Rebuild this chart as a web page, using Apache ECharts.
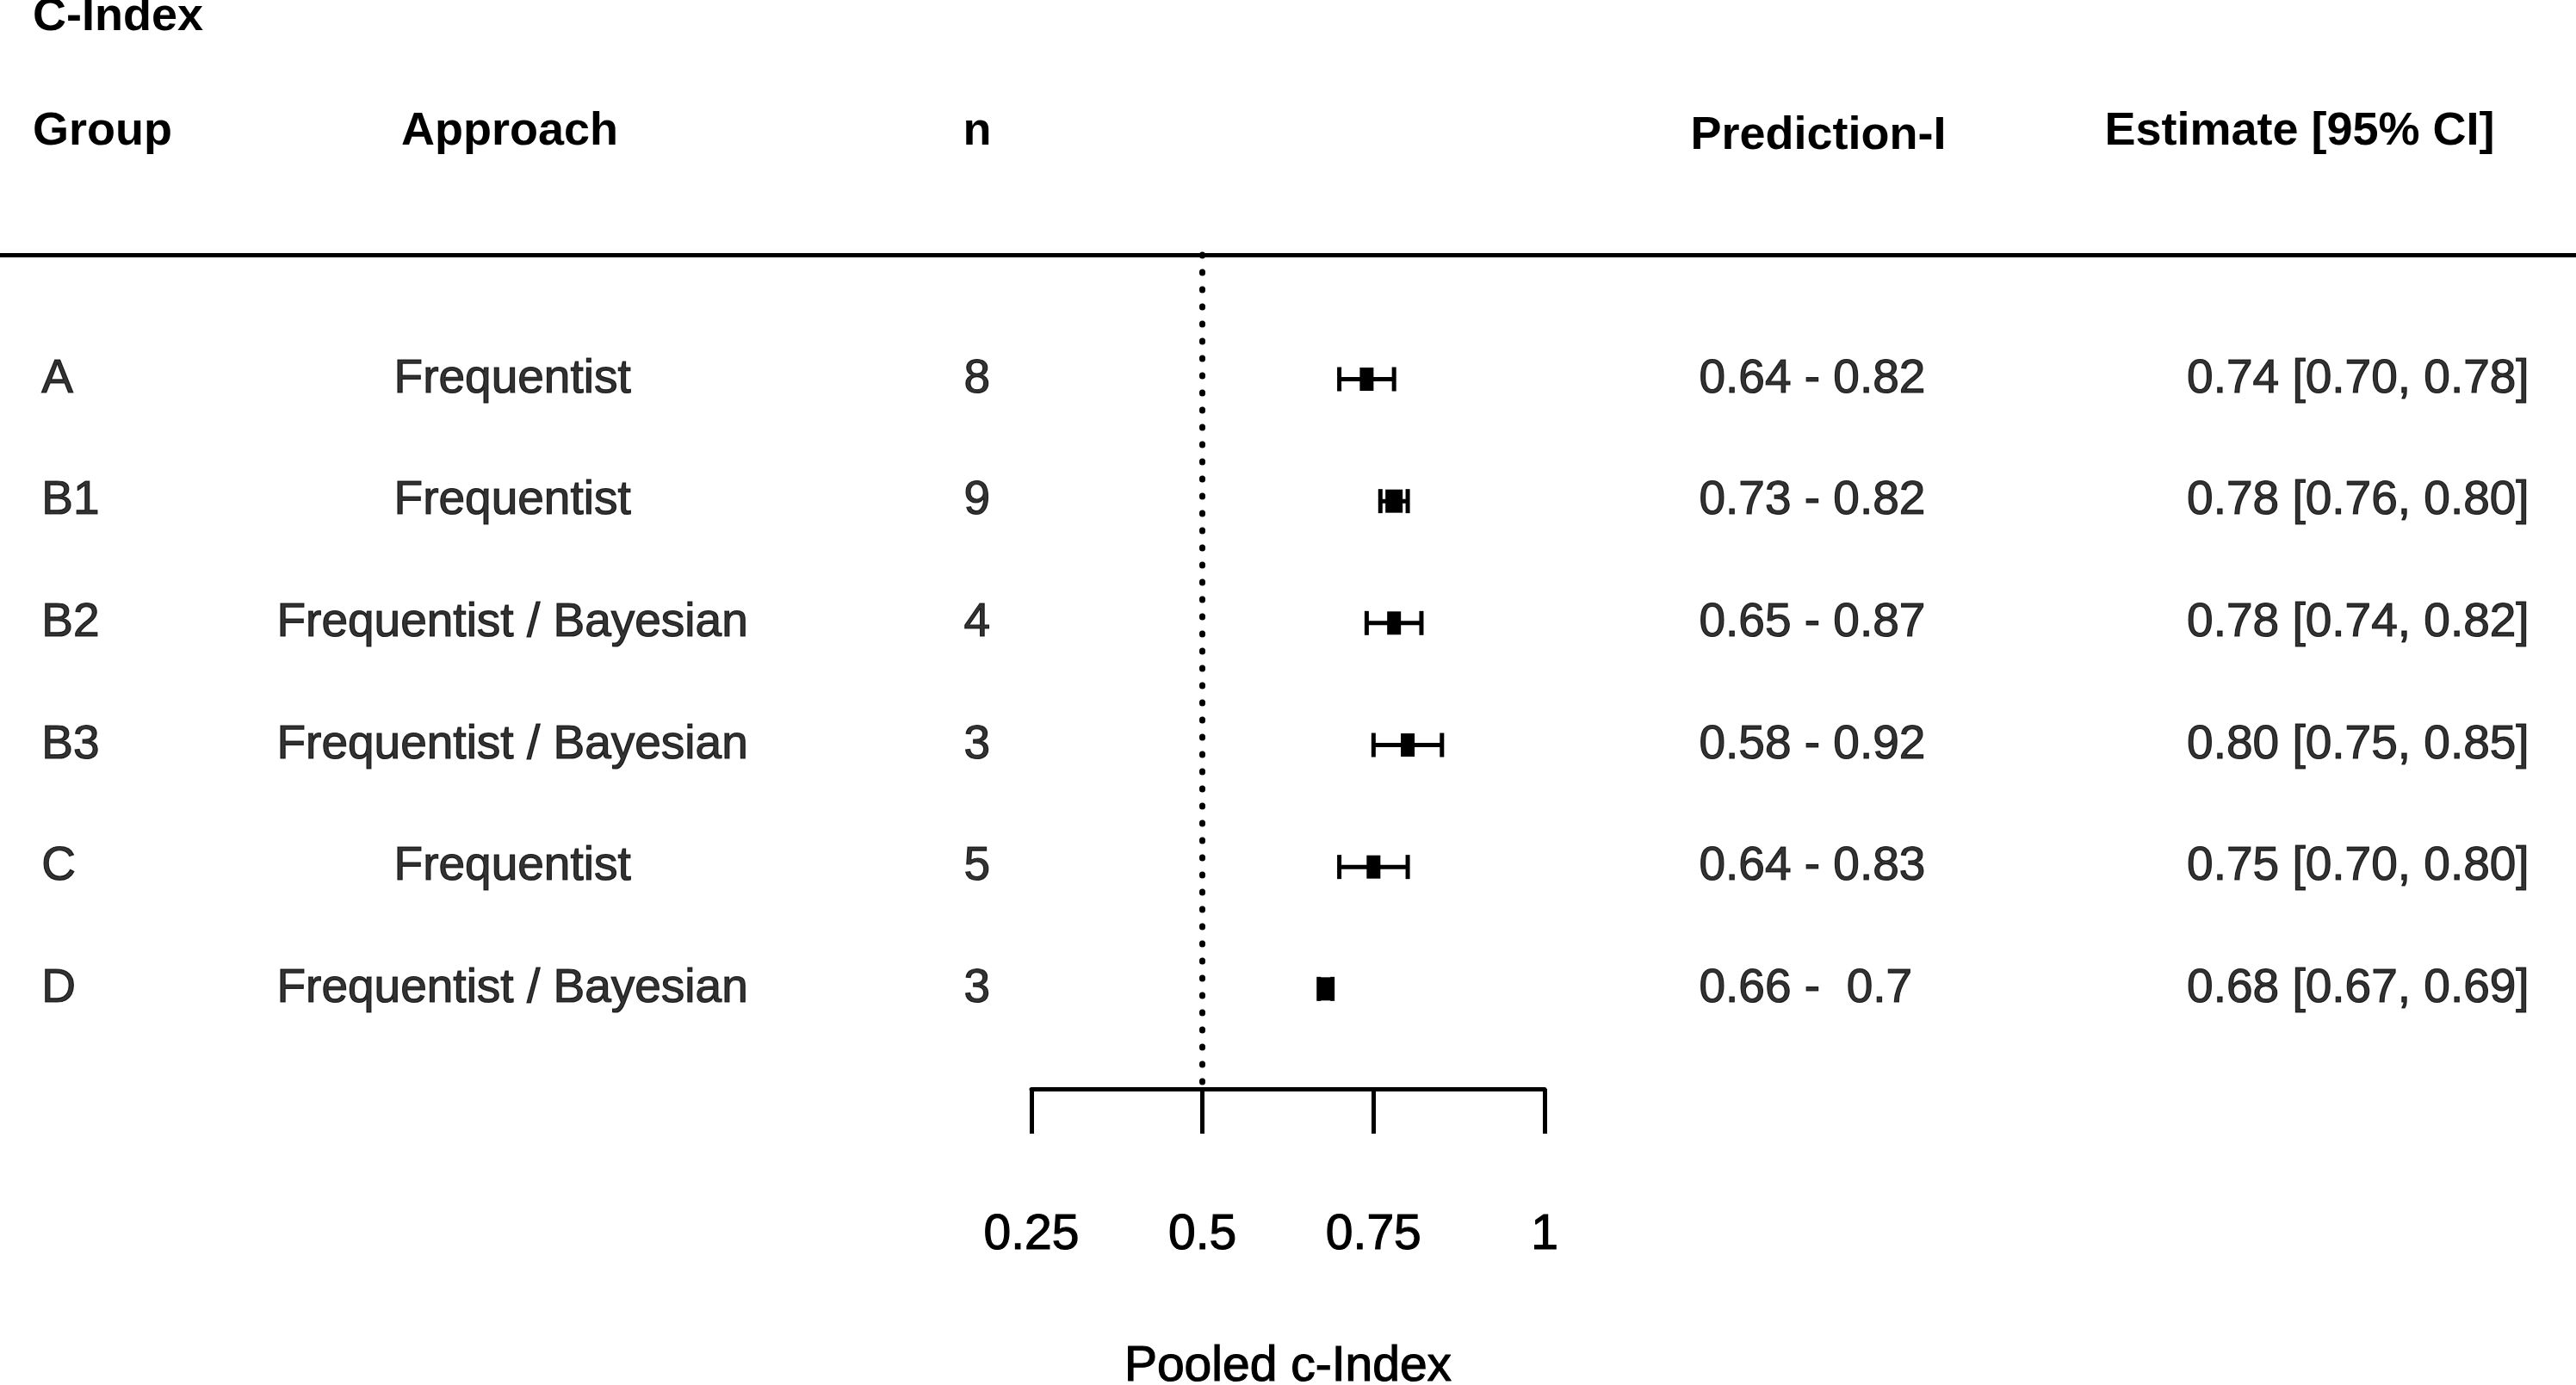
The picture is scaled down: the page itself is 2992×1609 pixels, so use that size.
<!DOCTYPE html>
<html>
<head>
<meta charset="utf-8">
<script src="https://cdn.jsdelivr.net/npm/echarts@6/dist/echarts.min.js"></script>
<style>
html, body { margin: 0; padding: 0; background: #fff; }
#main { width: 2992px; height: 1609px; }
</style>
</head>
<body>
<div id="main"></div>
<script>
// data
var groups = ['A', 'B1', 'B2', 'B3', 'C', 'D'];
var approaches = ['Frequentist', 'Frequentist', 'Frequentist / Bayesian', 'Frequentist / Bayesian', 'Frequentist', 'Frequentist / Bayesian'];
var nStudies = [8, 9, 4, 3, 5, 3];
var estimate = [0.74, 0.78, 0.78, 0.80, 0.75, 0.68];
var ciLow = [0.70, 0.76, 0.74, 0.75, 0.70, 0.67];
var ciHigh = [0.78, 0.80, 0.82, 0.85, 0.80, 0.69];
var predLow = [0.64, 0.73, 0.65, 0.58, 0.64, 0.66];
var predHigh = [0.82, 0.82, 0.87, 0.92, 0.83, 0.70];
var headers = ['Group', 'Approach', 'n', 'Prediction-I', 'Estimate [95% CI]'];
var nullValue = 0.5;

// styles
var FONT = '"Liberation Sans", Arial, sans-serif';
var boxWidth = [16, 20, 16, 16, 16, 17];
var boxHeight = 27;
var capHeight = 28;
var lineW = 5;

// R style formatting: shortest form, padded to width 4
function rNum(v) {
    var s = String(Math.round(v * 100) / 100);
    while (s.length < 4) s = ' ' + s;
    return s;
}
var predText = predLow.map(function (lo, i) { return rNum(lo) + ' - ' + rNum(predHigh[i]); });
var estText = estimate.map(function (e, i) {
    return e.toFixed(2) + ' [' + ciLow[i].toFixed(2) + ', ' + ciHigh[i].toFixed(2) + ']';
});

var rows = groups.map(function (g, i) { return i; });

function textColumn(x, texts, align) {
    var pos = align === 'left' ? 'right' : (align === 'right' ? 'left' : 'inside');
    return {
        type: 'scatter',
        xAxisIndex: 1,
        yAxisIndex: 1,
        symbolSize: 1,
        silent: true,
        itemStyle: { color: 'rgba(0,0,0,0)' },
        data: rows.map(function (r) { return [x, r]; }),
        label: {
            show: true,
            position: pos,
            distance: 0,
            color: '#000',
            textBorderColor: '#000',
            textBorderWidth: 1.2,
            fontFamily: FONT,
            fontSize: 55,
            formatter: function (p) { return String(texts[p.dataIndex]); }
        }
    };
}

function headerText(txt, x, y, align) {
    return {
        type: 'text',
        x: x,
        y: y,
        silent: true,
        style: {
            text: txt,
            fill: '#000',
            fontFamily: FONT,
            fontWeight: 'bold',
            fontSize: 54,
            align: align,
            verticalAlign: 'middle'
        }
    };
}

var chart = echarts.init(document.getElementById('main'), null, { renderer: 'canvas' });

var option = {
    backgroundColor: '#fff',
    animation: false,
    grid: [
        { left: 1198, right: 1198, top: 296, bottom: 344, containLabel: false, outerBoundsMode: 'none' },
        { left: 0, right: 0, top: 296, bottom: 344, containLabel: false, outerBoundsMode: 'none' }
    ],
    xAxis: [
        {
            type: 'value',
            gridIndex: 0,
            min: 0.25,
            max: 1,
            interval: 0.25,
            splitLine: { show: false },
            axisLine: { show: true, onZero: false, lineStyle: { color: '#000', width: lineW } },
            axisTick: { show: true, length: 52, lineStyle: { color: '#000', width: lineW } },
            axisLabel: { color: '#000', fontFamily: FONT, fontSize: 57, margin: 142, textBorderColor: '#000', textBorderWidth: 1.2 },
            name: 'Pooled c-Index',
            nameLocation: 'middle',
            nameGap: 295,
            nameTextStyle: { color: '#000', fontFamily: FONT, fontSize: 57, textBorderColor: '#000', textBorderWidth: 1.2 }
        },
        {
            type: 'value',
            gridIndex: 1,
            min: 0,
            max: 1,
            position: 'top',
            splitLine: { show: false },
            axisTick: { show: false },
            axisLabel: { show: false },
            axisLine: { show: true, onZero: false, lineStyle: { color: '#000', width: lineW } }
        }
    ],
    yAxis: [
        { type: 'value', gridIndex: 0, min: -1.02, max: 5.82, inverse: true, show: false },
        { type: 'value', gridIndex: 1, min: -1.02, max: 5.82, inverse: true, show: false }
    ],
    graphic: [
        headerText('C-Index', 38, 20, 'left'),
        headerText(headers[0], 38, 153, 'left'),
        headerText(headers[1], 592, 153, 'center'),
        headerText(headers[2], 1135, 153, 'center'),
        headerText(headers[3], 2112, 158, 'center'),
        headerText(headers[4], 2671, 153, 'center')
    ],
    series: [
        {
            type: 'custom',
            xAxisIndex: 0,
            yAxisIndex: 0,
            silent: true,
            data: rows.map(function (r) { return [ciLow[r], estimate[r], ciHigh[r], r]; }),
            renderItem: function (params, api) {
                var row = api.value(3);
                var pLo = api.coord([api.value(0), row]);
                var pEst = api.coord([api.value(1), row]);
                var pHi = api.coord([api.value(2), row]);
                var bw = boxWidth[params.dataIndex];
                var st = { stroke: '#000', lineWidth: lineW };
                return {
                    type: 'group',
                    children: [
                        { type: 'line', shape: { x1: pLo[0], y1: pLo[1], x2: pHi[0], y2: pHi[1] }, style: st },
                        { type: 'line', shape: { x1: pLo[0], y1: pLo[1] - capHeight / 2, x2: pLo[0], y2: pLo[1] + capHeight / 2 }, style: st },
                        { type: 'line', shape: { x1: pHi[0], y1: pHi[1] - capHeight / 2, x2: pHi[0], y2: pHi[1] + capHeight / 2 }, style: st },
                        { type: 'rect', shape: { x: pEst[0] - bw / 2, y: pEst[1] - boxHeight / 2, width: bw, height: boxHeight }, style: { fill: '#000' } }
                    ]
                };
            },
            markLine: {
                silent: true,
                symbol: ['none', 'none'],
                label: { show: false },
                lineStyle: { color: '#000', width: 7, type: [1, 19], cap: 'round' },
                data: [{ xAxis: nullValue }]
            }
        },
        textColumn(0.016, groups, 'left'),
        textColumn(0.1989, approaches, 'center'),
        textColumn(0.3793, nStudies, 'center'),
        textColumn(0.6594, predText, 'left'),
        textColumn(0.982, estText, 'right')
    ]
};

chart.setOption(option);
</script>
</body>
</html>
